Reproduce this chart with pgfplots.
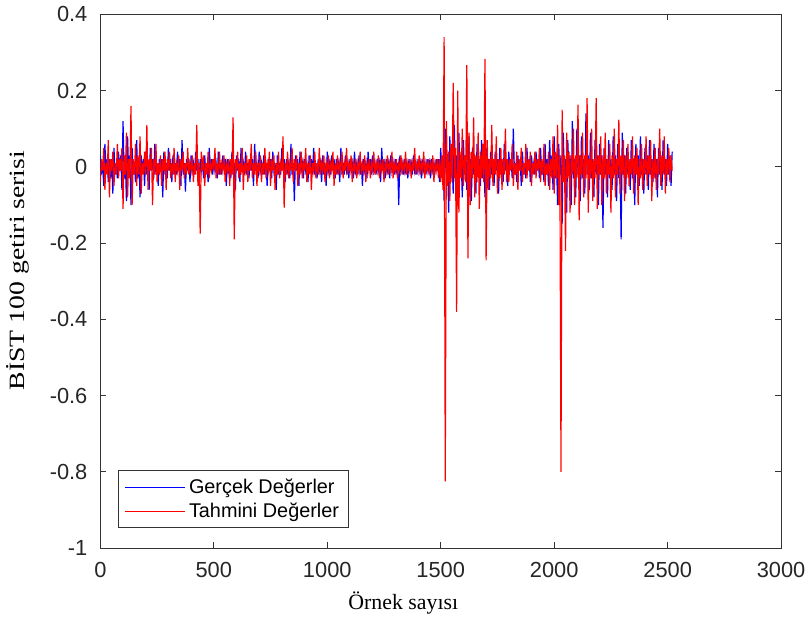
\documentclass[border=0pt]{standalone}
\usepackage{pgfplots}
\pgfplotsset{compat=1.18}
\usepackage{pgfplotstable}
\usepackage{fontspec}
\setmainfont{Liberation Serif}
\newfontfamily\arialfont{Liberation Sans}
\definecolor{mblue}{rgb}{0,0,1}
\definecolor{mred}{rgb}{1,0,0}

% samples every 5 steps (x = 0, 5, 10, ..., 2520)
\pgfplotstableread[row sep=\\, header=false]{
0.03\\ -0.02\\ 0.01\\ -0.05\\ 0.06\\ -0.01\\ 0.02\\ -0.04\\ 0.02\\ -0.03\\ 0.02\\ -0.07\\ 0.05\\ -0.02\\ 0.01\\ -0.03\\ 0.04\\ -0.01\\ 0.03\\ -0.06\\
0.12\\ -0.03\\ 0.02\\ -0.09\\ 0.08\\ -0.02\\ 0.03\\ -0.10\\ 0.05\\ -0.02\\ 0.01\\ -0.04\\ 0.07\\ -0.03\\ 0.02\\ -0.08\\ 0.03\\ -0.01\\ 0.02\\ -0.05\\
0.04\\ -0.02\\ 0.01\\ -0.06\\ 0.05\\ -0.01\\ 0.02\\ -0.03\\ 0.06\\ -0.02\\ 0.01\\ -0.05\\ 0.02\\ -0.01\\ 0.02\\ -0.08\\ 0.04\\ -0.02\\ 0.01\\ -0.03\\
0.05\\ -0.01\\ 0.02\\ -0.04\\ 0.03\\ -0.02\\ 0.01\\ -0.02\\ 0.04\\ -0.01\\ 0.02\\ -0.05\\ 0.07\\ -0.02\\ 0.01\\ -0.065\\ 0.02\\ -0.01\\ 0.02\\ -0.04\\
0.03\\ -0.01\\ 0.01\\ -0.02\\ 0.04\\ -0.01\\ 0.02\\ -0.05\\ 0.02\\ -0.01\\ 0.01\\ -0.03\\ 0.03\\ -0.02\\ 0.01\\ -0.04\\ 0.05\\ -0.01\\ 0.02\\ -0.02\\
0.02\\ -0.01\\ 0.01\\ -0.03\\ 0.04\\ -0.02\\ 0.01\\ -0.02\\ 0.03\\ -0.01\\ 0.02\\ -0.05\\ 0.02\\ -0.01\\ 0.01\\ -0.03\\ 0.04\\ -0.02\\ 0.01\\ -0.06\\
0.03\\ -0.01\\ 0.02\\ -0.04\\ 0.05\\ -0.01\\ 0.01\\ -0.02\\ 0.04\\ -0.02\\ 0.01\\ -0.03\\ 0.02\\ -0.01\\ 0.02\\ -0.05\\ 0.06\\ -0.01\\ 0.01\\ -0.03\\
0.04\\ -0.01\\ 0.01\\ -0.02\\ 0.03\\ -0.02\\ 0.01\\ -0.05\\ 0.02\\ -0.01\\ 0.02\\ -0.03\\ 0.04\\ -0.01\\ 0.01\\ -0.06\\ 0.03\\ -0.02\\ 0.01\\ -0.02\\
0.05\\ -0.01\\ 0.02\\ -0.04\\ 0.02\\ -0.01\\ 0.01\\ -0.03\\ 0.06\\ -0.02\\ 0.01\\ -0.09\\ 0.03\\ -0.01\\ 0.02\\ -0.05\\ 0.04\\ -0.01\\ 0.01\\ -0.03\\
0.02\\ -0.01\\ 0.01\\ -0.04\\ 0.03\\ -0.01\\ 0.02\\ -0.02\\ 0.05\\ -0.02\\ 0.01\\ -0.03\\ 0.02\\ -0.01\\ 0.01\\ -0.04\\ 0.03\\ -0.02\\ 0.01\\ -0.05\\
0.04\\ -0.01\\ 0.01\\ -0.02\\ 0.03\\ -0.01\\ 0.02\\ -0.03\\ 0.02\\ -0.01\\ 0.01\\ -0.04\\ 0.05\\ -0.02\\ 0.01\\ -0.02\\ 0.03\\ -0.01\\ 0.01\\ -0.03\\
0.02\\ -0.01\\ 0.01\\ -0.03\\ 0.04\\ -0.01\\ 0.01\\ -0.02\\ 0.03\\ -0.02\\ 0.01\\ -0.05\\ 0.02\\ -0.01\\ 0.01\\ -0.03\\ 0.04\\ -0.01\\ 0.02\\ -0.02\\
0.03\\ -0.01\\ 0.01\\ -0.02\\ 0.02\\ -0.01\\ 0.01\\ -0.04\\ 0.05\\ -0.01\\ 0.02\\ -0.03\\ 0.02\\ -0.01\\ 0.01\\ -0.03\\ 0.03\\ -0.01\\ 0.01\\ -0.02\\
0.02\\ -0.01\\ 0.01\\ -0.10\\ 0.03\\ -0.01\\ 0.01\\ -0.02\\ 0.02\\ -0.01\\ 0.01\\ -0.03\\ 0.02\\ -0.01\\ 0.01\\ -0.02\\ 0.03\\ -0.01\\ 0.01\\ -0.02\\
0.02\\ -0.01\\ 0.01\\ -0.03\\ 0.01\\ -0.01\\ 0.01\\ -0.02\\ 0.02\\ -0.01\\ 0.01\\ -0.03\\ 0.02\\ -0.01\\ 0.01\\ -0.01\\ 0.02\\ -0.01\\ 0.02\\ -0.04\\
0.05\\ -0.03\\ 0.02\\ -0.09\\ 0.10\\ -0.02\\ 0.03\\ -0.12\\ 0.08\\ -0.03\\ 0.02\\ -0.07\\ 0.11\\ -0.04\\ 0.03\\ -0.10\\ 0.09\\ -0.02\\ 0.03\\ -0.08\\
0.07\\ -0.02\\ 0.03\\ -0.06\\ 0.08\\ -0.03\\ 0.02\\ -0.09\\ 0.05\\ -0.02\\ 0.03\\ -0.07\\ 0.06\\ -0.02\\ 0.02\\ -0.05\\ 0.07\\ -0.03\\ 0.02\\ -0.08\\
0.05\\ -0.02\\ 0.02\\ -0.06\\ 0.04\\ -0.02\\ 0.01\\ -0.05\\ 0.04\\ -0.01\\ 0.02\\ -0.07\\ 0.05\\ -0.02\\ 0.02\\ -0.04\\ 0.06\\ -0.01\\ 0.02\\ -0.05\\
0.04\\ -0.01\\ 0.02\\ -0.03\\ 0.10\\ -0.02\\ 0.01\\ -0.04\\ 0.03\\ -0.01\\ 0.02\\ -0.05\\ 0.04\\ -0.02\\ 0.01\\ -0.03\\ 0.05\\ -0.01\\ 0.02\\ -0.04\\
0.03\\ -0.01\\ 0.01\\ -0.02\\ 0.04\\ -0.01\\ 0.02\\ -0.03\\ 0.05\\ -0.02\\ 0.01\\ -0.04\\ 0.06\\ -0.02\\ 0.02\\ -0.05\\ 0.07\\ -0.02\\ 0.03\\ -0.06\\
0.08\\ -0.03\\ 0.02\\ -0.10\\ 0.06\\ -0.02\\ 0.03\\ -0.15\\ 0.09\\ -0.03\\ 0.02\\ -0.12\\ 0.07\\ -0.02\\ 0.03\\ -0.10\\ 0.12\\ -0.03\\ 0.02\\ -0.08\\
0.10\\ -0.02\\ 0.03\\ -0.09\\ 0.08\\ -0.03\\ 0.02\\ -0.07\\ 0.14\\ -0.02\\ 0.03\\ -0.06\\ 0.09\\ -0.03\\ 0.02\\ -0.08\\ 0.07\\ -0.02\\ 0.03\\ -0.10\\
0.06\\ -0.02\\ 0.03\\ -0.16\\ 0.05\\ -0.02\\ 0.02\\ -0.08\\ 0.07\\ -0.03\\ 0.02\\ -0.06\\ 0.08\\ -0.02\\ 0.03\\ -0.09\\ 0.06\\ -0.03\\ 0.02\\ -0.19\\
0.09\\ -0.02\\ 0.03\\ -0.07\\ 0.05\\ -0.02\\ 0.02\\ -0.06\\ 0.07\\ -0.03\\ 0.02\\ -0.10\\ 0.06\\ -0.02\\ 0.03\\ -0.05\\ 0.08\\ -0.02\\ 0.02\\ -0.07\\
0.05\\ -0.02\\ 0.03\\ -0.06\\ 0.07\\ -0.02\\ 0.02\\ -0.04\\ 0.06\\ -0.03\\ 0.02\\ -0.08\\ 0.05\\ -0.02\\ 0.03\\ -0.06\\ 0.07\\ -0.02\\ 0.02\\ -0.05\\
0.06\\ -0.02\\ 0.03\\ -0.05\\ 0.04\\
}\gercek

\pgfplotstableread[row sep=\\, header=false]{
-0.04\\ 0.02\\ -0.01\\ 0.05\\ -0.06\\ 0.01\\ -0.02\\ 0.07\\ -0.08\\ 0.02\\ -0.01\\ 0.04\\ -0.05\\ 0.01\\ -0.02\\ 0.06\\ -0.03\\ 0.02\\ -0.01\\ 0.05\\
-0.11\\ 0.03\\ -0.02\\ 0.09\\ -0.08\\ 0.02\\ -0.03\\ 0.16\\ -0.10\\ 0.02\\ -0.02\\ 0.06\\ -0.05\\ 0.03\\ -0.02\\ 0.08\\ -0.07\\ 0.01\\ -0.02\\ 0.04\\
-0.02\\ 0.11\\ -0.06\\ 0.02\\ -0.01\\ 0.05\\ -0.10\\ 0.02\\ -0.02\\ 0.06\\ -0.04\\ 0.01\\ -0.02\\ 0.03\\ -0.05\\ 0.02\\ -0.01\\ 0.04\\ -0.06\\ 0.02\\
-0.01\\ 0.04\\ -0.03\\ 0.01\\ -0.02\\ 0.05\\ -0.04\\ 0.01\\ -0.01\\ 0.03\\ -0.06\\ 0.02\\ -0.01\\ 0.04\\ -0.03\\ 0.01\\ -0.02\\ 0.05\\ -0.02\\ 0.01\\
-0.01\\ 0.03\\ -0.04\\ 0.01\\ -0.02\\ 0.11\\ -0.05\\ 0.01\\ -0.175\\ 0.04\\ -0.01\\ 0.03\\ -0.05\\ 0.01\\ -0.02\\ 0.04\\ -0.03\\ 0.01\\ -0.01\\ 0.02\\
-0.01\\ 0.05\\ -0.03\\ 0.01\\ -0.02\\ 0.04\\ -0.02\\ 0.01\\ -0.01\\ 0.03\\ -0.04\\ 0.01\\ -0.01\\ 0.02\\ -0.05\\ 0.02\\ -0.02\\ 0.13\\ -0.19\\ 0.02\\
-0.01\\ 0.04\\ -0.03\\ 0.01\\ -0.02\\ 0.05\\ -0.06\\ 0.01\\ -0.01\\ 0.03\\ -0.04\\ 0.02\\ -0.01\\ 0.06\\ -0.03\\ 0.01\\ -0.02\\ 0.04\\ -0.05\\ 0.01\\
-0.01\\ 0.03\\ -0.04\\ 0.01\\ -0.02\\ 0.05\\ -0.03\\ 0.01\\ -0.01\\ 0.04\\ -0.05\\ 0.02\\ -0.01\\ 0.03\\ -0.06\\ 0.01\\ -0.02\\ 0.04\\ -0.03\\ 0.01\\
-0.01\\ 0.08\\ -0.107\\ 0.01\\ -0.02\\ 0.04\\ -0.03\\ 0.01\\ -0.01\\ 0.05\\ -0.04\\ 0.02\\ -0.01\\ 0.03\\ -0.05\\ 0.01\\ -0.02\\ 0.04\\ -0.03\\ 0.01\\
-0.01\\ 0.05\\ -0.04\\ 0.01\\ -0.02\\ 0.03\\ -0.06\\ 0.01\\ -0.01\\ 0.04\\ -0.03\\ 0.01\\ -0.02\\ 0.05\\ -0.02\\ 0.01\\ -0.01\\ 0.03\\ -0.04\\ 0.01\\
-0.01\\ 0.03\\ -0.03\\ 0.01\\ -0.01\\ 0.04\\ -0.05\\ 0.01\\ -0.02\\ 0.03\\ -0.02\\ 0.01\\ -0.01\\ 0.04\\ -0.03\\ 0.01\\ -0.01\\ 0.05\\ -0.02\\ 0.01\\
-0.01\\ 0.03\\ -0.04\\ 0.01\\ -0.01\\ 0.02\\ -0.03\\ 0.01\\ -0.01\\ 0.04\\ -0.02\\ 0.01\\ -0.01\\ 0.03\\ -0.04\\ 0.01\\ -0.01\\ 0.02\\ -0.03\\ 0.01\\
-0.01\\ 0.04\\ -0.02\\ 0.01\\ -0.01\\ 0.03\\ -0.03\\ 0.01\\ -0.01\\ 0.02\\ -0.04\\ 0.01\\ -0.01\\ 0.03\\ -0.02\\ 0.01\\ -0.01\\ 0.04\\ -0.03\\ 0.01\\
-0.01\\ 0.02\\ -0.03\\ 0.01\\ -0.01\\ 0.03\\ -0.02\\ 0.01\\ -0.01\\ 0.04\\ -0.02\\ 0.01\\ -0.01\\ 0.02\\ -0.03\\ 0.01\\ -0.01\\ 0.05\\ -0.02\\ 0.01\\
-0.01\\ 0.03\\ -0.02\\ 0.01\\ -0.01\\ 0.04\\ -0.03\\ 0.01\\ -0.01\\ 0.02\\ -0.02\\ 0.01\\ -0.01\\ 0.03\\ -0.04\\ 0.01\\ -0.01\\ 0.02\\ -0.03\\ 0.02\\
-0.04\\ 0.03\\ -0.06\\ 0.34\\ -0.825\\ 0.12\\ -0.05\\ 0.04\\ -0.09\\ 0.06\\ -0.04\\ 0.22\\ -0.03\\ 0.05\\ -0.38\\ 0.20\\ -0.12\\ 0.04\\ -0.03\\ 0.10\\
-0.05\\ 0.03\\ -0.04\\ 0.267\\ -0.24\\ 0.09\\ -0.10\\ 0.04\\ -0.03\\ 0.13\\ -0.08\\ 0.03\\ -0.04\\ 0.09\\ -0.11\\ 0.04\\ -0.03\\ 0.06\\ -0.04\\ 0.283\\
-0.245\\ 0.07\\ -0.06\\ 0.02\\ -0.03\\ 0.11\\ -0.05\\ 0.02\\ -0.02\\ 0.08\\ -0.07\\ 0.02\\ -0.03\\ 0.05\\ -0.06\\ 0.02\\ -0.02\\ 0.10\\ -0.04\\ 0.02\\
-0.04\\ 0.02\\ -0.01\\ 0.06\\ -0.05\\ 0.01\\ -0.02\\ 0.04\\ -0.06\\ 0.02\\ -0.01\\ 0.05\\ -0.04\\ 0.01\\ -0.02\\ 0.06\\ -0.03\\ 0.02\\ -0.01\\ 0.04\\
-0.05\\ 0.01\\ -0.02\\ 0.04\\ -0.03\\ 0.02\\ -0.01\\ 0.05\\ -0.04\\ 0.02\\ -0.02\\ 0.06\\ -0.05\\ 0.01\\ -0.02\\ 0.04\\ -0.06\\ 0.02\\ -0.03\\ 0.08\\
-0.07\\ 0.04\\ -0.03\\ 0.11\\ -0.10\\ 0.03\\ -0.80\\ 0.15\\ -0.04\\ 0.03\\ -0.22\\ 0.09\\ -0.03\\ 0.04\\ -0.12\\ 0.03\\ -0.02\\ 0.10\\ -0.10\\ 0.03\\
-0.03\\ 0.163\\ -0.14\\ 0.03\\ -0.02\\ 0.09\\ -0.08\\ 0.03\\ -0.03\\ 0.18\\ -0.12\\ 0.02\\ -0.03\\ 0.10\\ -0.09\\ 0.02\\ -0.03\\ 0.18\\ -0.11\\ 0.03\\
-0.02\\ 0.08\\ -0.10\\ 0.03\\ -0.03\\ 0.09\\ -0.07\\ 0.02\\ -0.02\\ 0.06\\ -0.12\\ 0.03\\ -0.03\\ 0.10\\ -0.08\\ 0.02\\ -0.02\\ 0.124\\ -0.07\\ 0.03\\
-0.02\\ 0.07\\ -0.09\\ 0.03\\ -0.03\\ 0.06\\ -0.05\\ 0.02\\ -0.02\\ 0.08\\ -0.07\\ 0.03\\ -0.02\\ 0.05\\ -0.10\\ 0.02\\ -0.03\\ 0.06\\ -0.06\\ 0.02\\
-0.02\\ 0.08\\ -0.05\\ 0.03\\ -0.02\\ 0.07\\ -0.09\\ 0.02\\ -0.03\\ 0.05\\ -0.06\\ 0.02\\ -0.02\\ 0.10\\ -0.05\\ 0.03\\ -0.02\\ 0.08\\ -0.07\\ 0.02\\
-0.02\\ 0.05\\ -0.04\\ 0.03\\ -0.01\\
}\tahmini

\begin{document}
\begin{tikzpicture}
\begin{axis}[
  scale only axis,
  width=343pt, height=269pt,
  xmin=0, xmax=3000, ymin=-1, ymax=0.4,
  xtick={0,500,1000,1500,2000,2500,3000},
  ytick={-1,-0.8,-0.6,-0.4,-0.2,0,0.2,0.4},
  yticklabels={-1,-0.8,-0.6,-0.4,-0.2,0,0.2,0.4},
  tick align=inside,
  major tick length=3pt,
  axis line style={black!80, line width=0.5pt},
  tick style={black!80, line width=0.5pt},
  /pgf/number format/assume math mode=true,
  /pgf/number format/1000 sep={},
  ticklabel style={font=\arialfont\fontsize{11}{13}\selectfont, text=black!85},
  xticklabel style={yshift=-3.5pt},
  yticklabel style={xshift=-3pt},
  xlabel={Örnek sayısı},
  ylabel={\scalebox{1.27}[1]{BİST 100 getiri serisi}},
  label style={font=\fontsize{11}{13}\selectfont},
  xlabel style={at={(axis description cs:0.445,-0.102)}, anchor=center},
  ylabel style={at={(axis description cs:-0.121,0.52)}, anchor=center},
  legend style={at={(axis description cs:0.026,0.037)}, anchor=south west,
    font=\arialfont\fontsize{10}{12}\selectfont, draw=black!80, line width=0.5pt,
    fill=white, inner xsep=3pt, inner ysep=2pt, row sep=-1pt},
  legend cell align=left,
  legend image code/.code={\draw[#1, line width=0.5pt] (0pt,0pt) -- (30pt,0pt);},
]
\addplot[mblue, line width=0.6pt] table[x expr=\coordindex*5, y index=0] {\gercek};
\addlegendentry{Gerçek Değerler}
\addplot[mred, line width=0.6pt] table[x expr=\coordindex*5, y index=0] {\tahmini};
\addlegendentry{Tahmini Değerler}
\end{axis}
\end{tikzpicture}
\end{document}
